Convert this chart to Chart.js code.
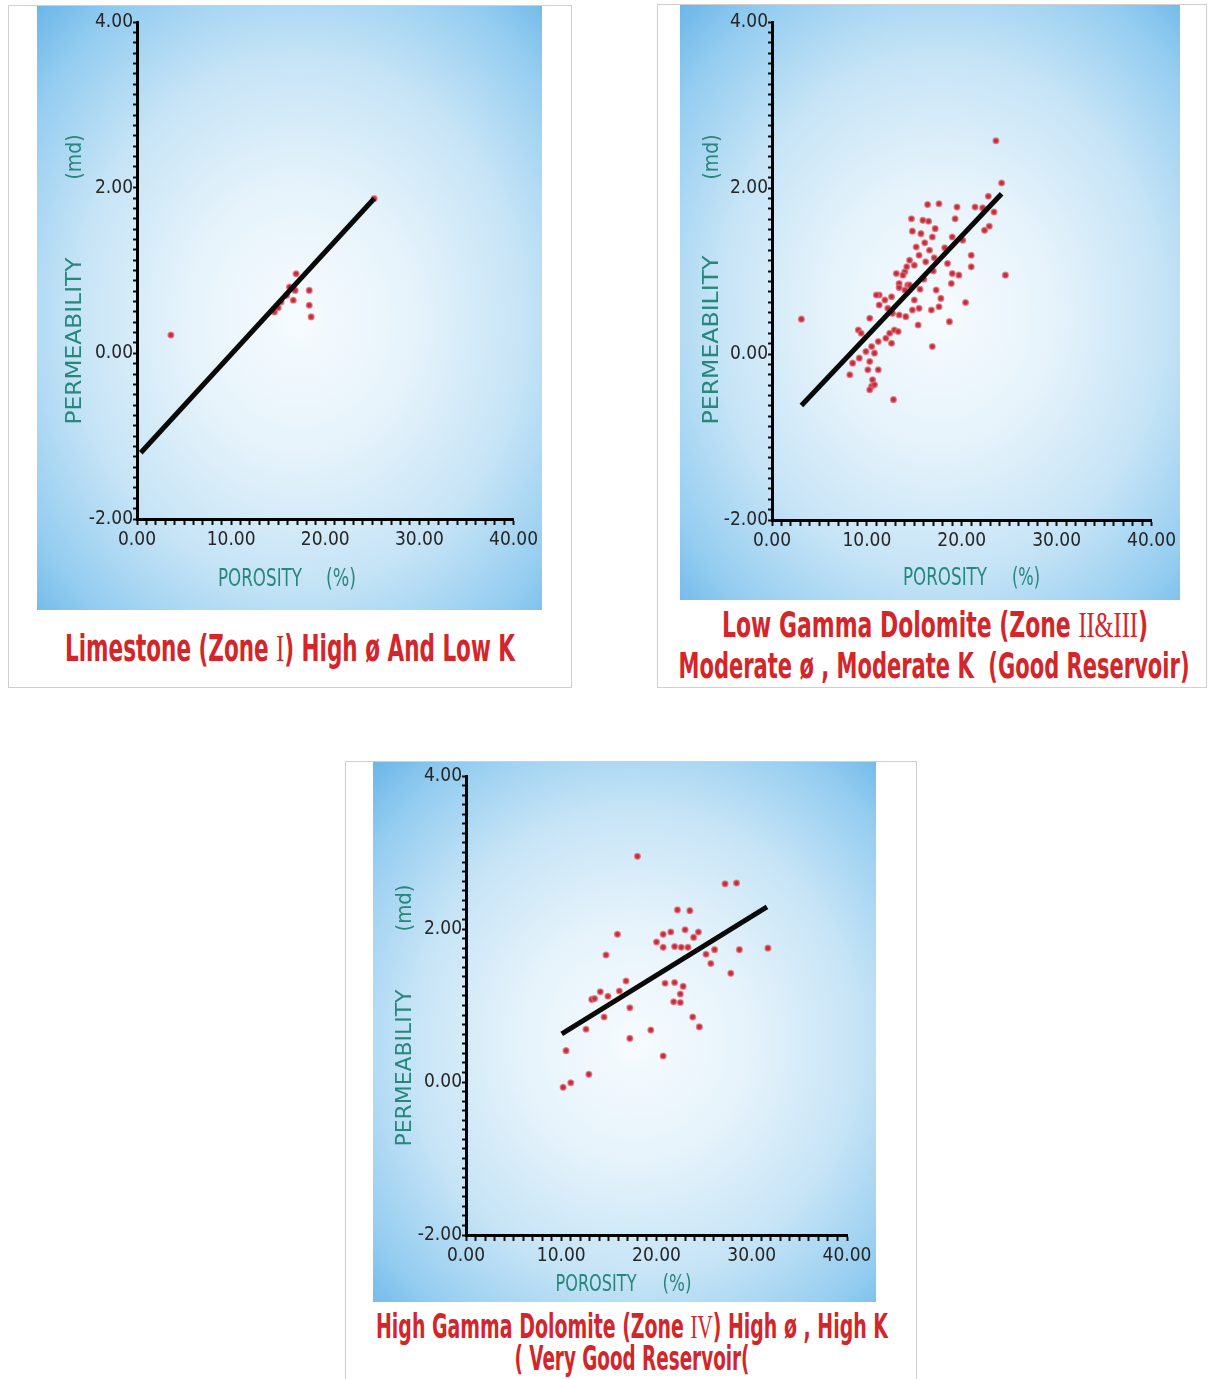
<!DOCTYPE html>
<html>
<head>
<meta charset="utf-8">
<script src="https://cdn.jsdelivr.net/npm/chart.js@4/dist/chart.umd.min.js"></script>
<style>
  html,body{margin:0;padding:0;background:#fff;}
  body{width:1208px;height:1379px;position:relative;overflow:hidden;}
  .frame{position:absolute;box-sizing:border-box;border:1px solid #cfcfcf;background:#fff;}
  .blue{position:absolute;background:radial-gradient(ellipse 74% 72% at 52% 52%, #f6fbfe 0%, #e6f3fb 30%, #c6e4f6 60%, #95cdf0 85%, #6db7e8 100%);}
  canvas{position:absolute;left:0;top:0;}
  .txt{position:absolute;white-space:pre;line-height:1;transform-origin:50% 50%;}
  .txt span.inner{display:inline-block;}
  .serif{font-family:'Liberation Serif','DejaVu Serif',serif;font-weight:normal;}
</style>
</head>
<body>
<div class="frame" style="left:8px;top:5px;width:564px;height:683px;"></div>
<div class="frame" style="left:657px;top:4px;width:550px;height:684px;"></div>
<div class="frame" style="left:345px;top:761px;width:572px;height:640px;"></div>

<div class="blue" id="b1" style="left:37px;top:6px;width:505px;height:604px;"><canvas id="c1" width="505" height="604"></canvas></div>
<div class="blue" id="b2" style="left:680px;top:5px;width:500px;height:595px;"><canvas id="c2" width="500" height="595"></canvas></div>
<div class="blue" id="b3" style="left:373px;top:762px;width:503px;height:540px;"><canvas id="c3" width="503" height="540"></canvas></div>

<script>
// ---------- data ----------
const xTickValues = [0, 10, 20, 30, 40];
const yTickValues = [-2, 0, 2, 4];

// Zone I (Limestone)
const zone1Porosity = [3.6, 14.6, 15.0, 15.3, 15.9, 16.2, 16.6, 16.8, 16.9, 18.3, 18.3, 18.5, 25.2];
const zone1Perm     = [0.22, 0.50, 0.55, 0.62, 0.70, 0.80, 0.64, 0.76, 0.96, 0.76, 0.58, 0.44, 1.87];
const zone1FitX = [0.4, 25.2];
const zone1FitY = [-1.20, 1.87];

// Zone II & III (Low gamma dolomite)
const zone2Porosity = [23.6, 24.2, 22.8, 24.6, 16.4, 17.6, 19.5, 21.4, 22.2, 14.7, 15.9, 19.3, 22.9, 17.2, 15.7,
  16.9, 19.0, 15.2, 16.1, 16.6, 15.5, 17.1, 16.2, 21.0, 21.0, 18.5, 19.0, 19.7, 18.9, 17.3,
  13.1, 14.0, 13.4, 11.3, 12.6, 14.3, 15.0, 18.2, 20.1, 22.4, 23.4, 14.5, 3.1, 12.8, 16.9,
  18.7, 15.4, 16.8, 17.6, 17.8, 15.5, 15.0, 14.8, 14.1, 13.4, 12.7, 12.9, 13.3, 12.4, 12.0,
  12.6, 11.2, 11.0, 11.3, 10.3, 9.1, 9.4, 10.5, 9.9, 10.8, 9.2, 8.5, 10.3, 8.2, 10.1,
  11.2, 10.6, 10.5, 10.8, 10.3, 13.4, 14.0, 14.5, 11.9, 13.8, 14.2, 12.2, 16.0, 17.0, 15.6,
  20.4, 14.8, 16.5];
const zone2Perm = [2.57, 2.06, 1.90, 0.95, 1.80, 1.81, 1.77, 1.77, 1.76, 1.63, 1.61, 1.63, 1.54, 1.51, 1.45,
  1.41, 1.41, 1.29, 1.34, 1.25, 1.19, 1.16, 1.11, 1.19, 1.05, 1.09, 0.97, 0.95, 0.85, 0.77,
  0.97, 0.99, 0.85, 0.71, 0.69, 0.83, 1.07, 1.28, 1.37, 1.49, 1.71, 1.13, 0.42, -0.55, 0.09,
  0.39, 0.35, 0.53, 0.57, 0.67, 0.55, 0.65, 0.53, 0.45, 0.47, 0.49, 0.29, 0.27, 0.25, 0.19,
  0.13, 0.15, 0.71, 0.59, 0.43, 0.29, 0.25, 0.09, 0.03, 0.01, -0.05, -0.11, -0.09, -0.25, -0.19,
  -0.19, -0.31, -0.39, -0.37, -0.43, 0.80, 0.77, 0.83, 0.65, 0.95, 1.05, 0.55, 0.90, 1.00, 0.78,
  0.62, 1.48, 1.60];
const zone2FitX = [3.1, 24.2];
const zone2FitY = [-0.62, 1.93];

// Zone IV (High gamma dolomite)
const zone4Porosity = [18.0, 27.2, 28.4, 22.2, 23.5, 15.9, 14.7, 20.7, 21.5, 23.0, 24.4, 23.9, 20.0, 20.7, 21.9,
  22.6, 23.3, 26.1, 28.7, 31.7, 25.2, 25.7, 27.8, 20.9, 21.9, 22.8, 22.5, 21.8, 22.5, 23.8,
  24.5, 16.8, 16.1, 14.1, 13.2, 13.5, 14.9, 17.2, 14.5, 12.6, 19.4, 17.2, 10.5, 20.7, 12.9,
  10.2, 11.0];
const zone4Perm = [2.95, 2.59, 2.60, 2.25, 2.24, 1.93, 1.66, 1.93, 1.96, 1.99, 1.96, 1.89, 1.83, 1.76, 1.77,
  1.76, 1.76, 1.73, 1.73, 1.75, 1.67, 1.55, 1.42, 1.29, 1.30, 1.25, 1.15, 1.05, 1.04, 0.85,
  0.72, 1.32, 1.19, 1.18, 1.08, 1.09, 1.12, 0.97, 0.85, 0.69, 0.68, 0.57, 0.41, 0.34, 0.10,
  -0.07, -0.01];
const zone4FitX = [10.05, 31.6];
const zone4FitY = [0.63, 2.29];

// ---------- helpers ----------
const NARROW = "'Liberation Sans Narrow','DejaVu Sans Condensed','Arial Narrow',sans-serif";
const Y_W = 60, X_H = 40;

function pairs(xs, ys){ return xs.map((x,i)=>({x:x, y:ys[i]})); }

function makeChart(id, px, py, fx, fy, pad){
  const ctx = document.getElementById(id);
  return new Chart(ctx, {
    type: 'scatter',
    data: {
      datasets: [
        { type:'line', data: pairs(fx, fy), showLine:true, borderColor:'#0a0a0a', borderWidth:5,
          borderCapStyle:'butt', pointRadius:0, fill:false, order:0 },
        { data: pairs(px, py), pointStyle:'circle', pointRadius:2.8,
          backgroundColor:'#b53444', borderColor:'rgba(240,100,110,0.7)', borderWidth:1.5, order:1 }
      ]
    },
    options: {
      responsive:false, animation:false, devicePixelRatio:1,
      layout:{ autoPadding:false, padding: pad },
      plugins:{ legend:{display:false}, tooltip:{enabled:false} },
      scales:{
        x:{ type:'linear', position:'bottom', min:0, max:40,
            afterFit: s => { s.height = X_H; },
            ticks:{ stepSize:1, autoSkip:false, maxRotation:0, minRotation:0, maxTicksLimit:100,
                    padding:4, color:'#262626', font:{family:NARROW, size:19},
                    callback: v => xTickValues.some(t => Math.abs(t - v) < 1e-6) ? Number(v).toFixed(2) : '' },
            grid:{ display:true, drawOnChartArea:false, drawTicks:true, tickLength:6, tickWidth:2,
                   tickColor:'#111', color:'rgba(0,0,0,0)' },
            border:{ display:true, color:'#000', width:3 } },
        y:{ type:'linear', position:'left', min:-2, max:4,
            afterFit: s => { s.width = Y_W; },
            ticks:{ stepSize:0.125, autoSkip:false, maxTicksLimit:100, padding:0,
                    color:'#262626', font:{family:NARROW, size:19},
                    callback: v => yTickValues.some(t => Math.abs(t - v) < 1e-6) ? Number(v).toFixed(2) : '' },
            grid:{ display:true, drawOnChartArea:false, drawTicks:true, tickLength:4, tickWidth:2,
                   tickColor:'#111', color:'rgba(0,0,0,0)' },
            border:{ display:true, color:'#000', width:3 } }
      }
    }
  });
}

// padding: left = chartLeft - Y_W, bottom = remaining - X_H
makeChart('c1', zone1Porosity, zone1Perm, zone1FitX, zone1FitY, {left:100 - Y_W, right:28, top:16, bottom:91 - X_H});
makeChart('c2', zone2Porosity, zone2Perm, zone2FitX, zone2FitY, {left:92 - Y_W, right:27, top:17, bottom:80 - X_H});
makeChart('c3', zone4Porosity, zone4Perm, zone4FitX, zone4FitY, {left:93 - Y_W, right:29, top:14, bottom:67 - X_H});

// ---------- text ----------
function placeText(html, cx, cy, targetW, size, color, weight, rot){
  const d = document.createElement('div');
  d.className = 'txt';
  d.style.left = cx + 'px'; d.style.top = cy + 'px';
  d.style.fontFamily = NARROW; d.style.fontSize = size + 'px';
  d.style.fontWeight = weight; d.style.color = color;
  const s = document.createElement('span'); s.className = 'inner'; s.innerHTML = html;
  d.appendChild(s); document.body.appendChild(d);
  const w = s.getBoundingClientRect().width;
  const k = targetW / w;
  d.style.transform = 'translate(-50%,-50%) rotate(' + (rot||0) + 'deg) scaleX(' + k + ')';
}
const TEAL = '#26877a', RED = '#d3262b';
// axis titles
placeText('PERMEABILITY', 74, 341, 167, 22, TEAL, 'normal', -90);
placeText('(md)', 74, 157, 45, 22, TEAL, 'normal', -90);
placeText('POROSITY', 260, 578, 84, 24, TEAL, 'normal', 0);
placeText('(%)', 341, 578, 30, 24, TEAL, 'normal', 0);

placeText('PERMEABILITY', 711, 340, 169, 22, TEAL, 'normal', -90);
placeText('(md)', 711, 157, 45, 22, TEAL, 'normal', -90);
placeText('POROSITY', 945, 577, 84, 24, TEAL, 'normal', 0);
placeText('(%)', 1026, 577, 28, 24, TEAL, 'normal', 0);

placeText('PERMEABILITY', 404, 1068, 157, 21, TEAL, 'normal', -90);
placeText('(md)', 404, 908, 47, 21, TEAL, 'normal', -90);
placeText('POROSITY', 596, 1283, 81, 23, TEAL, 'normal', 0);
placeText('(%)', 677, 1283, 29, 23, TEAL, 'normal', 0);

// captions
placeText('Limestone (Zone <span class="serif">I</span>) High ø And Low K', 290, 648, 450, 38, RED, 'bold', 0);
placeText('Low Gamma Dolomite (Zone <span class="serif">II&amp;III</span>)', 935, 625, 426, 36, RED, 'bold', 0);
placeText('Moderate ø , Moderate K  (Good Reservoir)', 934, 666, 511, 36, RED, 'bold', 0);
placeText('High Gamma Dolomite (Zone <span class="serif">IV</span>) High ø , High K', 632, 1326, 512, 34, RED, 'bold', 0);
placeText('( Very Good Reservoir(', 632, 1358, 235, 34, RED, 'bold', 0);
</script>
</body>
</html>
